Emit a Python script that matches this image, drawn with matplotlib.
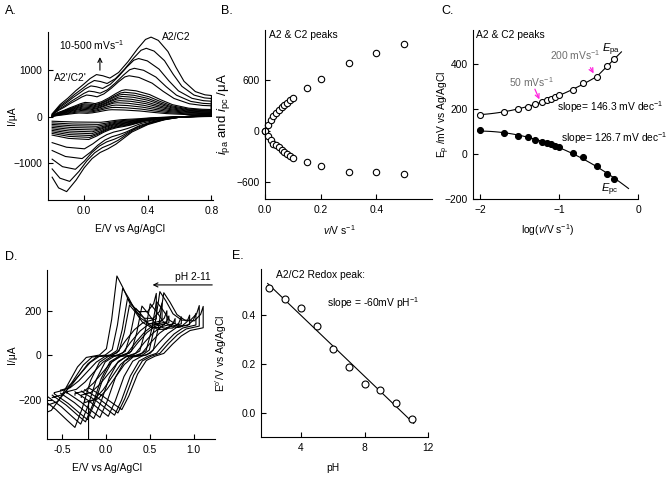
import numpy as np
import matplotlib
matplotlib.use('Agg')
import matplotlib.pyplot as plt

plt.rcParams['font.family'] = ['Liberation Sans', 'DejaVu Sans']
plt.rcParams['font.size'] = 7.4
plt.rcParams['mathtext.fontset'] = 'custom'
plt.rcParams['mathtext.rm'] = 'Liberation Sans'
plt.rcParams['mathtext.it'] = 'Liberation Sans:italic'
plt.rcParams['mathtext.default'] = 'regular'

# scan rates (V/s)
scan_rate = [0.01, 0.02, 0.03, 0.04, 0.05, 0.06, 0.07, 0.08, 0.09, 0.1, 0.15, 0.2, 0.3, 0.4, 0.5]

# panel A: outermost CV (500 mV/s), forward and reverse branch
E_an = [-0.2, -0.15, -0.1, -0.05, 0.0, 0.04, 0.08, 0.12, 0.165, 0.22, 0.28, 0.34, 0.39, 0.425, 0.47, 0.53, 0.58, 0.63, 0.7, 0.76, 0.8]
I_an = [60, 260, 400, 560, 700, 820, 905, 880, 830, 950, 1185, 1460, 1660, 1710, 1640, 1400, 1060, 760, 540, 470, 455]
E_ca = [0.8, 0.7, 0.6, 0.5, 0.4, 0.3, 0.25, 0.2, 0.15, 0.1, 0.05, 0.0, -0.05, -0.11, -0.16, -0.2]
I_ca = [60, 30, -10, -70, -170, -330, -460, -590, -690, -770, -900, -1100, -1360, -1610, -1530, -1300]
# peak heights of each CV
cv_peak_a = [150, 200, 250, 300, 345, 390, 435, 480, 525, 580, 880, 1040, 1250, 1470, 1710]
cv_peak_c = [-120, -165, -205, -245, -285, -325, -365, -405, -445, -490, -690, -900, -1130, -1390, -1610]

# panel B: peak currents
ip_rate = [0.0] + scan_rate
ipa = [0, 77, 136, 175, 214, 246, 278, 305, 332, 364, 391, 510, 608, 796, 914, 1020]
ipc = [0, -61, -109, -148, -168, -188, -225, -250, -275, -295, -315, -369, -408, -478, -478, -506]

# panel C: peak potentials (mV)
Epa = [176, 188, 201, 208, 224, 230, 242, 246, 255, 262, 283, 316, 343, 391, 421]
Epc = [107, 92, 82, 74, 63, 52, 49, 45, 37, 30, 3, -12, -54, -90, -109]

# panel E: formal potential vs pH
pH = [2, 3, 4, 5, 6, 7, 8, 9, 10, 11]
E0 = [0.51, 0.465, 0.427, 0.355, 0.26, 0.189, 0.118, 0.095, 0.04, -0.026]

# panel D: CV shape relative to E0 (normalised), peaks per pH
rel_an = [-0.71, -0.6, -0.5, -0.4, -0.3, -0.2, -0.05, 0.03, 0.09, 0.15, 0.22, 0.3, 0.4, 0.5, 0.57, 0.6]
an_norm = [-0.75, -0.7, -0.55, -0.35, -0.15, -0.03, 0.0, 0.08, 0.45, 1.0, 0.85, 0.65, 0.55, 0.55, 0.65, 0.78]
rel_ca = [0.6, 0.45, 0.35, 0.25, 0.15, 0.05, -0.05, -0.15, -0.25, -0.33, -0.42, -0.55, -0.71]
ca_norm = [0.5, 0.45, 0.35, 0.2, 0.03, -0.02, -0.1, -0.35, -0.75, -1.0, -0.9, -0.75, -0.6]
D_peak_a = [280, 285, 240, 230, 220, 210, 225, 255, 300, 355]
D_peak_c = [-245, -260, -270, -275, -280, -285, -290, -300, -310, -325]
D_start = [-450, -200, -190, -180, -170, -160, -170, -190, -225, -265]


def style(ax):
    ax.spines['top'].set_visible(False)
    ax.spines['right'].set_visible(False)
    for s in ['left', 'bottom']:
        ax.spines[s].set_linewidth(0.8)
    ax.tick_params(direction='in', length=3.5, width=0.8, labelsize=7.4, pad=4)


fig = plt.figure(figsize=(6.66, 4.8), dpi=100)

# ---------- A ----------
axA = fig.add_axes([48/666, 280/480, 165/666, 168/480])
style(axA)
E_an_arr = np.array(E_an)
E_ca_arr = np.array(E_ca)
for i in range(len(scan_rate)):
    ea = np.interp(E_an_arr, [-0.2, 0.425, 0.8], [-0.2, Epa[i]/1000, 0.8])
    ec = np.interp(E_ca_arr, [-0.2, -0.11, 0.8], [-0.2, Epc[i]/1000, 0.8])
    ia = np.array(I_an) * cv_peak_a[i] / cv_peak_a[-1]
    ic = np.array(I_ca) * cv_peak_c[i] / cv_peak_c[-1]
    axA.plot(np.concatenate([ea, ec]), np.concatenate([ia, ic]), color='black', lw=0.8)
axA.set_xlim(-0.226, 0.81)
axA.set_ylim(-1790, 1820)
axA.set_xticks([0.0, 0.4, 0.8])
axA.set_xticklabels(['0.0', '0.4', '0.8'])
axA.set_yticks([-1000, 0, 1000])
axA.set_xlabel('E/V vs Ag/AgCl')
axA.set_ylabel('I/μA')
axA.xaxis.set_label_coords(0.497, -0.14)
axA.yaxis.set_label_coords(-0.19, 0.5)
axA.text(0.49, 1720, 'A2/C2', va='center')
axA.text(-0.16, 1540, '10-500 mVs$^{-1}$', va='center')
axA.text(-0.19, 830, "A2'/C2'", va='center')
axA.annotate('', xy=(0.1, 1340), xytext=(0.1, 940),
             arrowprops=dict(arrowstyle='->', color='black', lw=0.8))

# ---------- B ----------
axB = fig.add_axes([265/666, 281/480, 167/666, 169/480])
style(axB)
axB.plot(ip_rate, ipa, 'o', mfc='white', mec='black', ms=4.6, mew=0.8, clip_on=False)
axB.plot(ip_rate, ipc, 'o', mfc='white', mec='black', ms=4.6, mew=0.8, clip_on=False)
axB.set_xlim(0, 0.6)
axB.set_ylim(-800, 1190)
axB.set_xticks([0.0, 0.2, 0.4])
axB.set_xticklabels(['0.0', '0.2', '0.4'])
axB.set_yticks([-600, 0, 600])
axB.set_xlabel(r'$\mathit{v}$/V s$^{-1}$')
axB.set_ylabel(r'$\mathit{i}_{pa}$ and $\mathit{i}_{pc}$ /μA', fontsize=9.5)
axB.xaxis.set_label_coords(0.443, -0.145)
axB.yaxis.set_label_coords(-0.2, 0.5)
axB.text(0.014, 1130, 'A2 & C2 peaks', va='center')

# ---------- C ----------
axC = fig.add_axes([473/666, 281/480, 165/666, 169/480])
style(axC)
logv = np.log10(scan_rate)
axC.plot(logv, Epa, 'o', mfc='white', mec='black', ms=4.3, mew=0.8, zorder=3)
axC.plot(logv, Epc, 'o', mfc='black', mec='black', ms=4.3, mew=0.8, zorder=3)
p1 = np.polyfit(logv[:13], Epa[:13], 2)
x1 = np.linspace(-2.03, logv[12], 50)
axC.plot(x1, np.polyval(p1, x1), color='black', lw=0.8)
p2 = np.polyfit(logv[12:], Epa[12:], 1)
x2 = np.linspace(logv[12], -0.21, 10)
axC.plot(x2, np.polyval(p2, x2), color='black', lw=0.8)
p3 = np.polyfit(logv, Epc, 2)
x3 = np.linspace(-2.03, -0.12, 60)
axC.plot(x3, np.polyval(p3, x3), color='black', lw=0.8)
axC.set_xlim(-2.09, 0)
axC.set_ylim(-200, 552)
axC.set_xticks([-2, -1, 0])
axC.set_yticks([-200, 0, 200, 400])
axC.set_xlabel(r'log($\mathit{v}$/V s$^{-1}$)')
axC.set_ylabel('E$_{p}$ /mV vs Ag/AgCl')
axC.xaxis.set_label_coords(0.455, -0.14)
axC.yaxis.set_label_coords(-0.13, 0.5)
axC.text(-2.05, 528, 'A2 & C2 peaks', va='center')
axC.text(-0.45, 465, r'$\mathit{E}_{pa}$', va='center', fontsize=8)
axC.text(-0.47, -160, r'$\mathit{E}_{pc}$', va='center', fontsize=8)
axC.text(-1.12, 440, '200 mVs$^{-1}$', color='#6e6e6e', va='center')
axC.text(-1.63, 318, '50 mVs$^{-1}$', color='#6e6e6e', va='center')
axC.annotate('', xy=(-0.545, 348), xytext=(-0.62, 395),
             arrowprops=dict(arrowstyle='->', color='#ff22dd', lw=0.9))
axC.annotate('', xy=(-1.235, 232), xytext=(-1.32, 300),
             arrowprops=dict(arrowstyle='->', color='#ff22dd', lw=0.9))
axC.text(-1.02, 208, 'slope= 146.3 mV dec$^{-1}$', va='center')
axC.text(-0.98, 70, 'slope= 126.7 mV dec$^{-1}$', va='center')

# ---------- D ----------
axD = fig.add_axes([47/666, 41/480, 168/666, 169/480])
style(axD)
for k in range(len(pH)):
    ea = E0[k] + np.array(rel_an)
    ia = np.array(an_norm) * D_peak_a[k]
    ec = E0[k] + np.array(rel_ca)
    ic = np.array(ca_norm) * -D_peak_c[k]
    x = np.concatenate([[ea[0]], ea, ec])
    y = np.concatenate([[D_start[k]], ia, ic])
    axD.plot(x, y, color='black', lw=0.8)
axD.set_xlim(-0.675, 1.245)
axD.set_ylim(-377, 382)
axD.set_xticks([-0.5, 0.0, 0.5, 1.0])
axD.set_xticklabels(['-0.5', '0.0', '0.5', '1.0'])
axD.set_yticks([-200, 0, 200])
axD.set_xlabel('E/V vs Ag/AgCl')
axD.set_ylabel('I/μA')
axD.xaxis.set_label_coords(0.36, -0.14)
axD.yaxis.set_label_coords(-0.18, 0.5)
axD.text(1.2, 350, 'pH 2-11', ha='right', va='center')
axD.annotate('', xy=(0.5, 315), xytext=(1.245, 315),
             arrowprops=dict(arrowstyle='->', color='black', lw=0.8), annotation_clip=False)

# ---------- E ----------
axE = fig.add_axes([261/666, 43/480, 167/666, 168/480])
style(axE)
axE.plot(pH, E0, 'o', mfc='white', mec='black', ms=5, mew=0.8, zorder=3)
pe = np.polyfit(pH, E0, 1)
xe = np.linspace(1.9, 11.1, 10)
axE.plot(xe, np.polyval(pe, xe), color='black', lw=0.8)
axE.set_xlim(1.48, 12)
axE.set_ylim(-0.098, 0.588)
axE.set_xticks([4, 8, 12])
axE.set_yticks([0.0, 0.2, 0.4])
axE.set_yticklabels(['0.0', '0.2', '0.4'])
axE.set_xlabel('pH')
axE.set_ylabel(r"E$^{o\prime}$/V vs Ag/AgCl")
axE.xaxis.set_label_coords(0.43, -0.155)
axE.yaxis.set_label_coords(-0.19, 0.5)
axE.text(2.4, 0.563, 'A2/C2 Redox peak:', va='center')
axE.text(5.65, 0.45, 'slope = -60mV pH$^{-1}$', va='center')

# panel letters
fig.text(5/666, 1 - 11/480, 'A.', fontsize=9, va='center')
fig.text(221/666, 1 - 11/480, 'B.', fontsize=9, va='center')
fig.text(441/666, 1 - 11/480, 'C.', fontsize=9, va='center')
fig.text(5/666, 1 - 257/480, 'D.', fontsize=9, va='center')
fig.text(232/666, 1 - 256/480, 'E.', fontsize=9, va='center')

fig.savefig('out.png', dpi=100)
